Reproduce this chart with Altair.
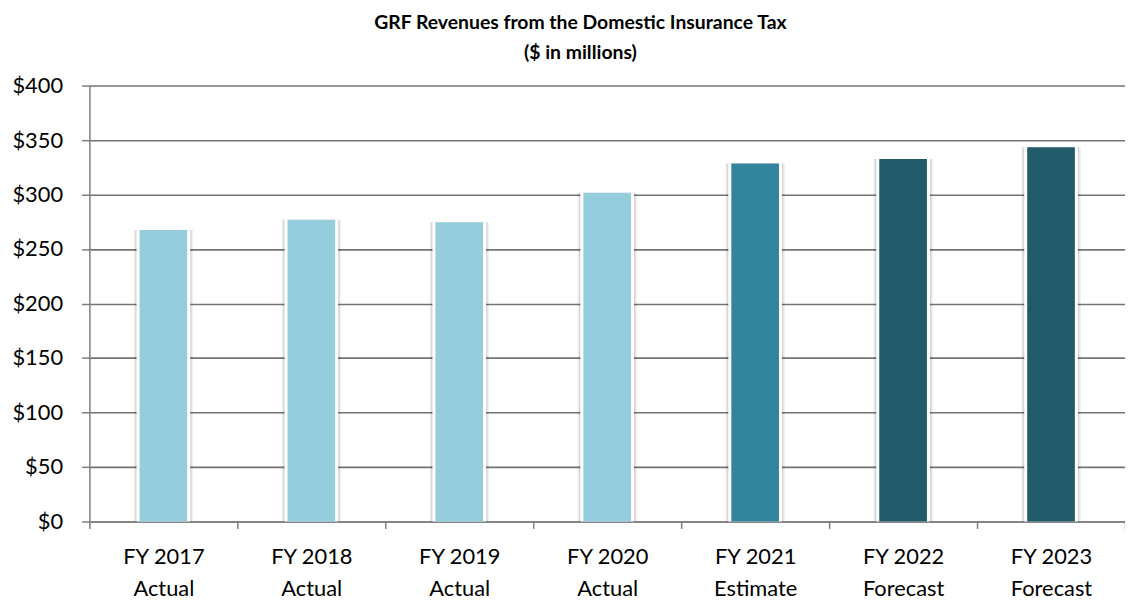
import altair as alt
import pandas as pd

categories = ["FY 2017\nActual", "FY 2018\nActual", "FY 2019\nActual", "FY 2020\nActual",
              "FY 2021\nEstimate", "FY 2022\nForecast", "FY 2023\nForecast"]
values = [267.5, 276.8, 274.5, 301.6, 328.6, 332.6, 343.5]
kinds = ["Actual", "Actual", "Actual", "Actual", "Estimate", "Forecast", "Forecast"]

df = pd.DataFrame({"cat": categories, "val": values, "kind": kinds})

FONT = "Lato"

x = alt.X("cat:N", sort=categories, title=None,
          scale=alt.Scale(paddingInner=0, paddingOuter=0),
          axis=alt.Axis(labelExpr="split(datum.label, '\\n')", labelAngle=0,
                        labelFont=FONT, labelFontSize=22, labelColor="#000000",
                        labelLineHeight=33, labelBaseline="top", labelPadding=18,
                        tickBand="extent", tickSize=7, tickColor="#7f7f7f", tickWidth=1.5,
                        domainColor="#7f7f7f", domainWidth=1.5, grid=False))
y = alt.Y("val:Q", title=None,
          scale=alt.Scale(domain=[0, 400], nice=False),
          axis=alt.Axis(values=[0, 50, 100, 150, 200, 250, 300, 350, 400], format="$,.0f",
                        labelFont=FONT, labelFontSize=22, labelColor="#000000", labelPadding=19,
                        tickSize=8, tickColor="#7f7f7f", tickWidth=1.5,
                        domainColor="#7f7f7f", domainWidth=1.5,
                        grid=True, gridColor="#737373", gridWidth=1.6))

color = alt.Color("kind:N", legend=None,
                  scale=alt.Scale(domain=["Actual", "Estimate", "Forecast"],
                                  range=["#95CDDD", "#31859C", "#215A69"]))

base = alt.Chart(df).encode(x=x, y=y)

shadow1 = base.mark_bar(size=60, color="#000000", opacity=0.06)
shadow2 = base.mark_bar(size=57, color="#000000", opacity=0.10)
white = base.mark_bar(size=54, color="#ffffff")
bars = base.mark_bar(size=48).encode(color=color)

chart = alt.layer(shadow1, shadow2, white, bars).properties(
    width=1043, height=439,
    autosize=alt.AutoSizeParams(type="none"),
    padding={"left": 82, "top": 76, "right": 0, "bottom": 80},
    title=alt.TitleParams(text=["GRF Revenues from the Domestic Insurance Tax", "($ in millions)"],
                          font=FONT, fontSize=19.5, fontWeight="bold", color="#000000",
                          lineHeight=30, anchor="middle", dx=-27, offset=11),
).configure_view(stroke=None)

chart.save("out.html", embed_options={"renderer": "svg", "actions": False})
